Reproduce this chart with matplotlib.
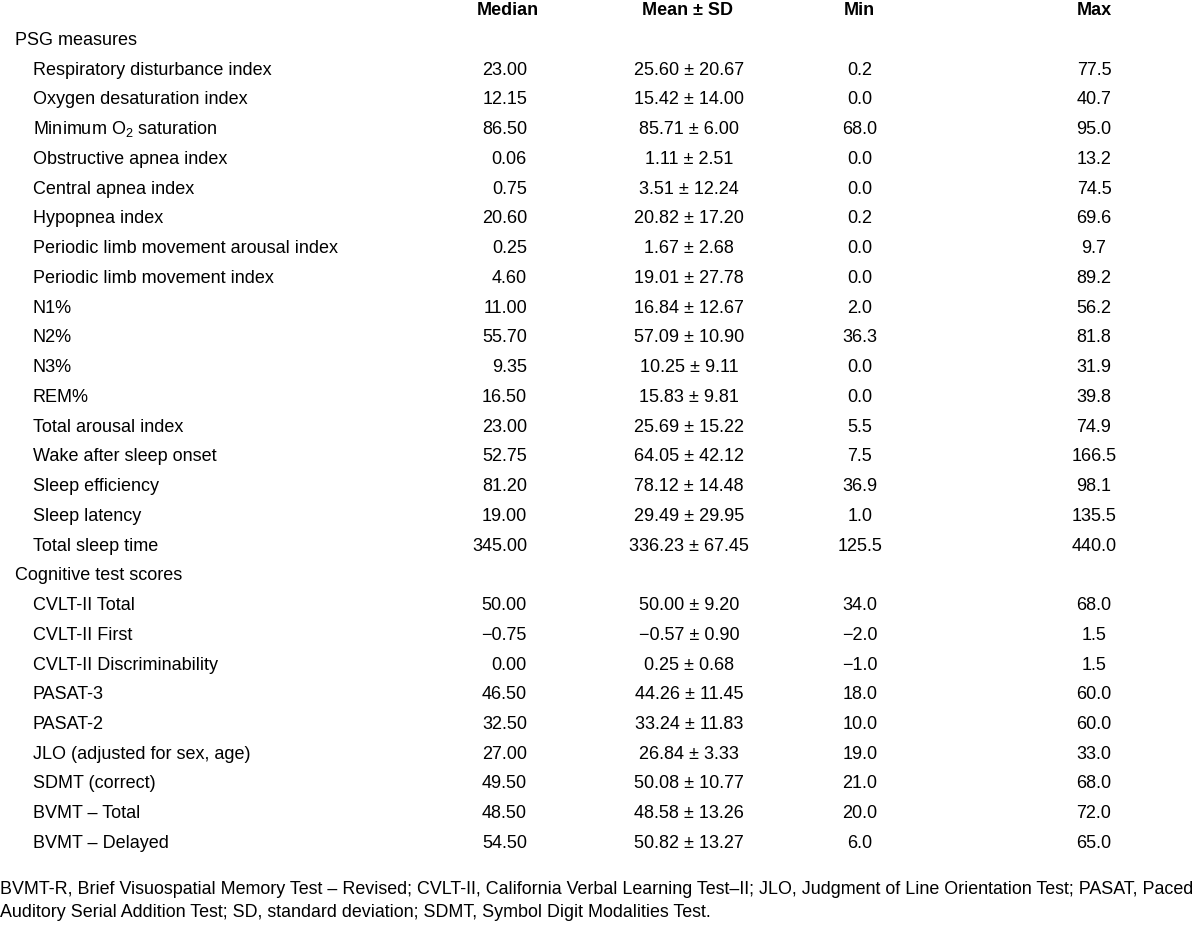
import matplotlib
matplotlib.use("Agg")
import matplotlib.pyplot as plt

plt.rcParams["font.family"] = ["Liberation Sans", "DejaVu Sans"]
plt.rcParams["mathtext.fontset"] = "custom"
plt.rcParams["mathtext.rm"] = "Liberation Sans"

columns = ["Median", "Mean \u00b1 SD", "Min", "Max"]

psg_labels = [
    "Respiratory disturbance index", "Oxygen desaturation index",
    "Minimum O$_\\mathrm{2}$ saturation", "Obstructive apnea index", "Central apnea index",
    "Hypopnea index", "Periodic limb movement arousal index",
    "Periodic limb movement index", "N1%", "N2%", "N3%", "REM%",
    "Total arousal index", "Wake after sleep onset", "Sleep efficiency",
    "Sleep latency", "Total sleep time",
]
psg_median = [23.00, 12.15, 86.50, 0.06, 0.75, 20.60, 0.25, 4.60, 11.00, 55.70,
              9.35, 16.50, 23.00, 52.75, 81.20, 19.00, 345.00]
psg_mean = [25.60, 15.42, 85.71, 1.11, 3.51, 20.82, 1.67, 19.01, 16.84, 57.09,
            10.25, 15.83, 25.69, 64.05, 78.12, 29.49, 336.23]
psg_sd = [20.67, 14.00, 6.00, 2.51, 12.24, 17.20, 2.68, 27.78, 12.67, 10.90,
          9.11, 9.81, 15.22, 42.12, 14.48, 29.95, 67.45]
psg_min = [0.2, 0.0, 68.0, 0.0, 0.0, 0.2, 0.0, 0.0, 2.0, 36.3, 0.0, 0.0, 5.5,
           7.5, 36.9, 1.0, 125.5]
psg_max = [77.5, 40.7, 95.0, 13.2, 74.5, 69.6, 9.7, 89.2, 56.2, 81.8, 31.9,
           39.8, 74.9, 166.5, 98.1, 135.5, 440.0]

cog_labels = [
    "CVLT-II Total", "CVLT-II First", "CVLT-II Discriminability", "PASAT-3",
    "PASAT-2", "JLO (adjusted for sex, age)", "SDMT (correct)",
    "BVMT \u2013 Total", "BVMT \u2013 Delayed",
]
cog_median = [50.00, -0.75, 0.00, 46.50, 32.50, 27.00, 49.50, 48.50, 54.50]
cog_mean = [50.00, -0.57, 0.25, 44.26, 33.24, 26.84, 50.08, 48.58, 50.82]
cog_sd = [9.20, 0.90, 0.68, 11.45, 11.83, 3.33, 10.77, 13.26, 13.27]
cog_min = [34.0, -2.0, -1.0, 18.0, 10.0, 19.0, 21.0, 20.0, 6.0]
cog_max = [68.0, 1.5, 1.5, 60.0, 60.0, 33.0, 68.0, 72.0, 65.0]

sections = [
    ("PSG measures", psg_labels, psg_median, psg_mean, psg_sd, psg_min, psg_max),
    ("Cognitive test scores", cog_labels, cog_median, cog_mean, cog_sd, cog_min, cog_max),
]

footnote = [
    "BVMT-R, Brief Visuospatial Memory Test \u2013 Revised; CVLT-II, California Verbal Learning Test\u2013II; "
    "JLO, Judgment of Line Orientation Test; PASAT, Paced",
    "Auditory Serial Addition Test; SD, standard deviation; SDMT, Symbol Digit Modalities Test.",
]


def fmt(v, nd):
    s = f"{abs(v):.{nd}f}"
    return ("\u2212" + s) if v < 0 else s


fig = plt.figure(figsize=(12, 9.29), dpi=100)
ax = fig.add_axes([0, 0, 1, 1])
ax.set_xlim(0, 1200)
ax.set_ylim(929, 0)
ax.axis("off")

fs = 13
col_x = [527, 689, 860, 1094]
col_ha = ["right", "center", "center", "center"]
head_x = [508, 688, 859, 1094]

for x, name in zip(head_x, columns):
    ax.text(x, 10, name, ha="center", va="center", fontsize=fs, fontweight="bold")

y = 40
step = 29.74
for title, labels, med, mean, sd, mn, mx in sections:
    ax.text(15, y + 5, title, ha="left", va="baseline", fontsize=fs)
    y += step
    for i, lab in enumerate(labels):
        ax.text(33, y + 5, lab, ha="left", va="baseline", fontsize=fs)
        vals = [fmt(med[i], 2), f"{fmt(mean[i], 2)} \u00b1 {fmt(sd[i], 2)}",
                fmt(mn[i], 1), fmt(mx[i], 1)]
        for x, ha, v in zip(col_x, col_ha, vals):
            ax.text(x, y + 5, v, ha=ha, va="baseline", fontsize=fs)
        y += step

ax.text(0, 890, footnote[0], ha="left", va="center", fontsize=12.9)
ax.text(0, 913, footnote[1], ha="left", va="center", fontsize=12.9)

fig.savefig("out.png", dpi=100)
